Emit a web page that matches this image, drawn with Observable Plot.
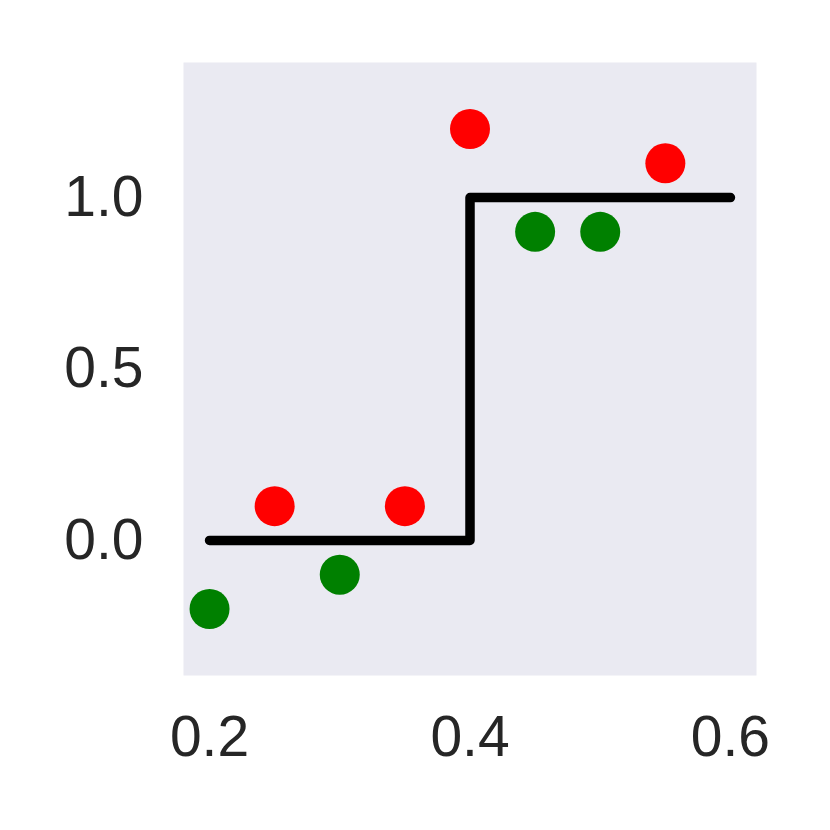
<!DOCTYPE html>
<html>
<head>
<meta charset="utf-8">
<script src="https://cdn.jsdelivr.net/npm/d3@7"></script>
<script src="https://cdn.jsdelivr.net/npm/@observablehq/plot@0.6"></script>
<style>
  html, body { margin: 0; padding: 0; background: #ffffff; }
</style>
</head>
<body>
<div id="chart"></div>
<script>
// Step function
const stepX = [0.2, 0.4, 0.6];
const stepY = [0, 1, 1];
// Scatter points
const pointX = [0.2, 0.25, 0.3, 0.35, 0.4, 0.45, 0.5, 0.55];
const pointY = [-0.2, 0.1, -0.1, 0.1, 1.2, 0.9, 0.9, 1.1];
const pointColor = ["green", "red", "green", "red", "red", "green", "green", "red"];
// Tick labels
const xTicks = [0.2, 0.4, 0.6];
const yTicks = [0.0, 0.5, 1.0];

const stepData = stepX.map((x, i) => ({x, y: stepY[i]}));
const pointData = pointX.map((x, i) => ({x, y: pointY[i], c: pointColor[i]}));

const chart = Plot.plot({
  width: 830,
  height: 830,
  marginLeft: 183,
  marginRight: 74,
  marginTop: 62,
  marginBottom: 155,
  style: {
    fontFamily: "'Liberation Sans', Arial, sans-serif",
    fontSize: "57px",
    color: "#262626",
    background: "#ffffff"
  },
  x: {domain: [0.18, 0.62], ticks: xTicks, tickFormat: d3.format(".1f"), tickSize: 0, tickPadding: 40, label: null},
  y: {domain: [-0.394, 1.394], ticks: yTicks, tickFormat: d3.format(".1f"), tickSize: 0, tickPadding: 40, label: null},
  marks: [
    Plot.frame({fill: "#EAEAF2", stroke: null}),
    Plot.line(stepData, {x: "x", y: "y", curve: "step-after", stroke: "black", strokeWidth: 9.5, strokeLinecap: "round", strokeLinejoin: "round"}),
    Plot.dot(pointData, {x: "x", y: "y", fill: "c", r: 20, stroke: null})
  ]
});
document.getElementById("chart").appendChild(chart);
</script>
</body>
</html>
